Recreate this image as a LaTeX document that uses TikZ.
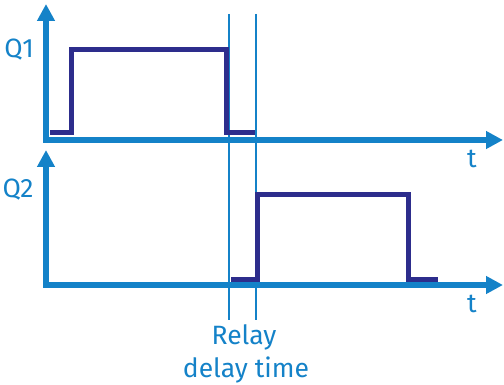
\documentclass[tikz,border=0pt]{standalone}
\usepackage{fontspec}
\setsansfont{Fira Sans}
\usetikzlibrary{arrows.meta}

\definecolor{axisblue}{RGB}{20,130,200}
\definecolor{signavy}{RGB}{45,45,140}

\begin{document}
\begin{tikzpicture}[x=1pt, y=-1pt,
  axis/.style={axisblue, line width=6pt, {Triangle[length=17pt,width=17pt]}-{Triangle[length=17pt,width=17pt]}},
  signal/.style={signavy, line width=5pt},
  marker/.style={axisblue, line width=1.5pt},
  lbl/.style={text=axisblue, font=\sffamily\fontsize{26.5}{30}\selectfont, inner sep=0pt}]
\useasboundingbox (0,0) rectangle (504,385);

% axes
\coordinate (O1) at (46,140);
\coordinate (Y1) at (46,4);
\coordinate (X1) at (503,140);
\coordinate (O2) at (46,285);
\coordinate (Y2) at (46,150);
\coordinate (X2) at (503,285);

% relay switching instants
\coordinate (Atop) at (229,14);
\coordinate (Abot) at (229,320);
\coordinate (Btop) at (256,14);
\coordinate (Bbot) at (256,320);

\draw[marker] (Atop) -- (Abot);
\draw[marker] (Btop) -- (Bbot);

\draw[axis] (Y1) -- (O1) -- (X1);
\draw[axis] (Y2) -- (O2) -- (X2);

% Q1 and Q2 outputs
\draw[signal] (50,133) -- (71,133) -- (71,50) -- (226,50) -- (226,133) -- (255,133);
\draw[signal] (231,280) -- (257,280) -- (257,195) -- (408,195) -- (408,280) -- (438,280);

\node[lbl] (q1) at (19,50) {Q1};
\node[lbl] (q2) at (18,190) {Q2};
\node[lbl] (t1) at (472,159) {t};
\node[lbl] (t2) at (472,304) {t};
\node[lbl, anchor=base] (relay) at (244,344) {Relay};
\node[lbl, anchor=base] (delay) at (246,377) {delay time};
\end{tikzpicture}
\end{document}
